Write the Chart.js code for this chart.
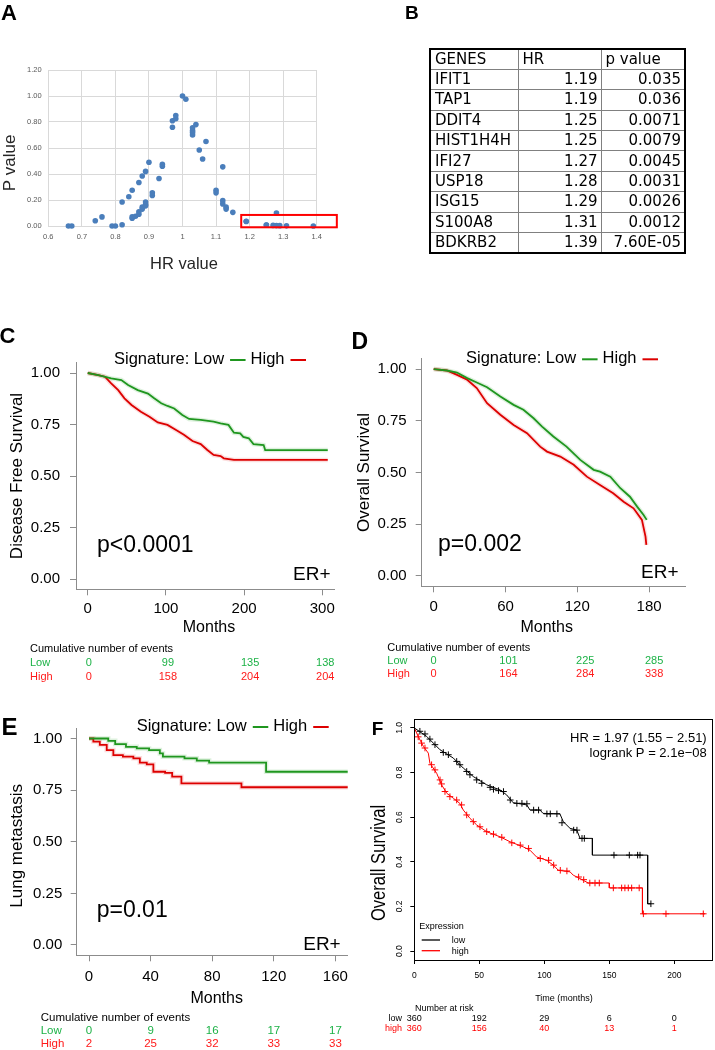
<!DOCTYPE html>
<html>
<head>
<meta charset="utf-8">
<title>Signature figure</title>
<script src="https://cdn.jsdelivr.net/npm/chart.js@4.4.1/dist/chart.umd.min.js"></script>
<style>
  body { margin: 0; background: #fff; overflow: hidden; }
  #page { position: relative; width: 715px; height: 1050px; overflow: hidden; font-family: "Liberation Sans", Arial, sans-serif; }
  #page canvas { position: absolute; left: 0; top: 0; }
  .tag { position: absolute; font-weight: bold; line-height: 1; color: #000; z-index: 2; }
  #geneTable { position: absolute; left: 429px; top: 48px; border-collapse: collapse; table-layout: fixed;
               font-family: "DejaVu Sans", Verdana, sans-serif; font-size: 15px; border: 2px solid #000; z-index: 2; }
  #geneTable tr { height: 20.4px; }
  #geneTable td { border: 1px solid #808080; padding: 0 3px 0 4px; line-height: 1; white-space: nowrap; color: #000; }
</style>
</head>
<body>
<div id="page">
  <canvas id="chartA" width="715" height="1050"></canvas>
  <canvas id="chartC" width="715" height="1050"></canvas>
  <canvas id="chartD" width="715" height="1050"></canvas>
  <canvas id="chartE" width="715" height="1050"></canvas>
  <canvas id="chartF" width="715" height="1050"></canvas>
  <table id="geneTable">
    <colgroup><col style="width:88px"><col style="width:83px"><col style="width:84px"></colgroup>
  </table>
  <div class="tag" style="left:1px;top:2px;font-size:22px">A</div>
  <div class="tag" style="left:405px;top:2.5px;font-size:19px">B</div>
  <div class="tag" style="left:-0.5px;top:324.5px;font-size:22px">C</div>
  <div class="tag" style="left:351.5px;top:330.3px;font-size:23px">D</div>
  <div class="tag" style="left:1.5px;top:715px;font-size:24px">E</div>
  <div class="tag" style="left:371.7px;top:719px;font-size:19px">F</div>
</div>
<script>
// ---------- A: HR vs p value for every candidate gene ----------
const hrValues = [0.66, 0.67, 0.74, 0.76, 0.79, 0.80, 0.82, 0.82, 0.84, 0.85, 0.85, 0.85, 0.86, 0.87, 0.87, 0.87,
  0.88, 0.88, 0.88, 0.89, 0.89, 0.89, 0.89, 0.90, 0.91, 0.91, 0.93, 0.94, 0.94, 0.97, 0.97, 0.98, 0.98, 1.00, 1.01,
  1.03, 1.03, 1.03, 1.03, 1.04, 1.05, 1.06, 1.07, 1.10, 1.10, 1.12, 1.12, 1.12, 1.13, 1.13, 1.15, 1.19, 1.19, 1.25,
  1.25, 1.27, 1.28, 1.28, 1.29, 1.31, 1.39];
const pValues = [0.00, 0.00, 0.04, 0.07, 0.00, 0.00, 0.01, 0.185, 0.225, 0.275, 0.06, 0.07, 0.075, 0.09, 0.11, 0.335,
  0.13, 0.145, 0.385, 0.155, 0.165, 0.185, 0.42, 0.49, 0.235, 0.255, 0.365, 0.46, 0.475, 0.76, 0.81, 0.825, 0.85, 1.00, 0.975,
  0.70, 0.72, 0.735, 0.755, 0.78, 0.585, 0.515, 0.65, 0.255, 0.275, 0.455, 0.17, 0.195, 0.13, 0.145, 0.105, 0.035, 0.036, 0.0071,
  0.0079, 0.0045, 0.0031, 0.10, 0.0026, 0.0012, 0.000076];
const hrTicks = [0.6, 0.7, 0.8, 0.9, 1.0, 1.1, 1.2, 1.3, 1.4];
const pTicks = [0, 0.2, 0.4, 0.6, 0.8, 1.0, 1.2];
const boxHR = [1.175, 1.46];
const boxP = [-0.01, 0.085];

// ---------- B: selected genes ----------
const geneNames = ['IFIT1', 'TAP1', 'DDIT4', 'HIST1H4H', 'IFI27', 'USP18', 'ISG15', 'S100A8', 'BDKRB2'];
const geneHR = [1.19, 1.19, 1.25, 1.25, 1.27, 1.28, 1.29, 1.31, 1.39];
const geneP = ['0.035', '0.036', '0.0071', '0.0079', '0.0045', '0.0031', '0.0026', '0.0012', '7.60E-05'];

// ---------- C: disease free survival ----------
const survTicks = [0, 0.25, 0.5, 0.75, 1];
const dfsTicks = [0, 100, 200, 300];
const dfsLowMonths = [0, 13.5, 30, 43, 51.6, 64, 77, 85, 94, 102, 110.6, 121, 129.7, 144.5, 161, 170, 180, 187, 195, 199, 206, 212, 225, 227, 307];
const dfsLowSurv = [1.0, 0.99, 0.974, 0.966, 0.942, 0.917, 0.90, 0.877, 0.853, 0.84, 0.828, 0.796, 0.777, 0.772, 0.764, 0.756, 0.748, 0.71, 0.707, 0.69, 0.683, 0.655, 0.65, 0.626, 0.626];
const dfsHighMonths = [0, 13.5, 22, 30, 39, 47, 56, 68, 79, 89.6, 102, 113, 123, 134, 144.5, 153, 161, 170, 174, 187, 307];
const dfsHighSurv = [1.0, 0.99, 0.982, 0.95, 0.917, 0.877, 0.845, 0.812, 0.788, 0.76, 0.748, 0.723, 0.70, 0.67, 0.655, 0.626, 0.602, 0.597, 0.586, 0.578, 0.578];
const dfsLowEvents = [0, 99, 135, 138];
const dfsHighEvents = [0, 158, 204, 204];

// ---------- D: overall survival ----------
const osTicks = [0, 60, 120, 180];
const osLowMonths = [0, 11, 19.5, 28, 36, 44.6, 55.7, 66.8, 75, 83.5, 90.6, 100, 111, 122.5, 133.7, 139, 147.6, 156, 164, 170, 175.4, 178];
const osLowSurv = [1.0, 0.993, 0.983, 0.956, 0.935, 0.912, 0.867, 0.827, 0.803, 0.762, 0.722, 0.674, 0.625, 0.561, 0.513, 0.504, 0.48, 0.424, 0.383, 0.335, 0.295, 0.271];
const osHighMonths = [0, 11, 19.5, 28, 36, 44.6, 55.7, 66.8, 78, 89, 94.7, 105.8, 117, 128, 139, 150, 158.7, 167, 170, 174, 177, 177.7];
const osHighSurv = [1.0, 0.993, 0.972, 0.948, 0.908, 0.835, 0.779, 0.73, 0.69, 0.625, 0.601, 0.577, 0.537, 0.48, 0.44, 0.40, 0.359, 0.327, 0.303, 0.271, 0.19, 0.15];
const osLowEvents = [0, 101, 225, 285];
const osHighEvents = [0, 164, 284, 338];

// ---------- E: lung metastasis ----------
const lungTicks = [0, 40, 80, 120, 160];
const lungLowMonths = [0, 12.5, 17, 24, 31, 39, 46, 48, 62, 70, 78, 115, 168];
const lungLowSurv = [1.0, 0.989, 0.973, 0.96, 0.952, 0.944, 0.928, 0.912, 0.904, 0.893, 0.883, 0.839, 0.839];
const lungHighMonths = [0, 2.8, 7, 11.5, 15.8, 22, 28.8, 33, 37.5, 41.8, 49.4, 54, 60, 99, 168];
const lungHighSurv = [1.0, 0.985, 0.969, 0.944, 0.92, 0.912, 0.904, 0.883, 0.875, 0.839, 0.834, 0.815, 0.783, 0.764, 0.764];
const lungLowEvents = [0, 9, 16, 17, 17];
const lungHighEvents = [2, 25, 32, 33, 33];

// ---------- F: overall survival, external cohort ----------
const fTimeTicks = [0, 50, 100, 150, 200];
const fSurvTicks = [0, 0.2, 0.4, 0.6, 0.8, 1.0];
const fLowMonths = [0, 9.5, 19.8, 30, 37.7, 45.4, 55.7, 66, 71, 76, 86.5, 89, 96.7, 99, 112, 114.6, 119.8, 125, 127.5, 137, 137, 179.5, 179.5, 182];
const fLowSurv = [1.0, 0.962, 0.902, 0.865, 0.82, 0.782, 0.745, 0.722, 0.70, 0.665, 0.655, 0.632, 0.632, 0.617, 0.615, 0.58, 0.55, 0.542, 0.505, 0.505, 0.43, 0.43, 0.212, 0.212];
const fHighMonths = [0, 3, 7, 10.8, 12, 17.2, 21, 25, 30, 35, 37.7, 42.8, 48, 55.7, 66, 73.6, 83.8, 89, 94, 101.8, 107, 110.8, 119.8, 122.3, 127.5, 133.8, 150, 150, 175.5, 175.5, 223.6];
const fHighSurv = [1.0, 0.962, 0.917, 0.887, 0.842, 0.797, 0.745, 0.707, 0.685, 0.662, 0.632, 0.595, 0.565, 0.535, 0.512, 0.49, 0.467, 0.452, 0.422, 0.407, 0.385, 0.362, 0.355, 0.34, 0.325, 0.305, 0.305, 0.283, 0.283, 0.167, 0.167];
const fLowCensorMonths = [4.3, 8.2, 12, 15.9, 22.3, 26.2, 32.6, 35.1, 40.3, 42.8, 48, 51.9, 58.3, 60.9, 64.8, 68.6, 73.8, 78.9, 82.8, 86.6, 91.8, 95.6, 102, 104.6, 109.7, 113.6, 122.6, 125.1, 129, 130.8, 153.6, 165.4, 171.8, 173.6, 182];
const fLowCensorSurv = [0.985, 0.973, 0.95, 0.925, 0.89, 0.88, 0.85, 0.835, 0.805, 0.79, 0.767, 0.752, 0.734, 0.725, 0.719, 0.715, 0.677, 0.662, 0.662, 0.66, 0.632, 0.632, 0.615, 0.615, 0.615, 0.575, 0.542, 0.542, 0.505, 0.505, 0.43, 0.43, 0.43, 0.43, 0.212];
const fHighCensorMonths = [3, 5.6, 8.2, 13.3, 15.9, 19.8, 21, 23.6, 27.4, 32.6, 36.4, 40.3, 45.4, 50.5, 55.7, 60.9, 67.3, 75, 81.5, 87.9, 96.9, 103.3, 107.2, 112.3, 117.4, 126.4, 130.3, 135, 139, 142.3, 153.1, 159.5, 162, 164.6, 167.2, 173, 176.2, 193.6, 222.3];
const fHighCensorSurv = [0.96, 0.932, 0.91, 0.835, 0.812, 0.767, 0.749, 0.715, 0.692, 0.677, 0.655, 0.61, 0.58, 0.557, 0.535, 0.524, 0.51, 0.485, 0.475, 0.46, 0.415, 0.407, 0.385, 0.362, 0.359, 0.332, 0.32, 0.305, 0.305, 0.305, 0.283, 0.283, 0.283, 0.283, 0.283, 0.283, 0.167, 0.167, 0.167];
const fLowAtRisk = [360, 192, 29, 6, 0];
const fHighAtRisk = [360, 156, 40, 13, 1];

// ---------- shared style ----------
const SANS = '"Liberation Sans", Arial, sans-serif';
const GREEN = '#1f961f';
const RED = '#dd0000';
const GREEN_TXT = '#1db247';
const RED_TXT = '#ff1a1a';
const AXIS_GREY = '#8c8c8c';

const f = (size) => size + 'px ' + SANS;
const pts = (xs, ys) => xs.map((x, i) => ({ x: x, y: ys[i] }));
const fixedTicks = (values) => (axis) => { axis.ticks = values.map(v => ({ value: v })); };

function drawTexts(ctx, items) {
  items.forEach(t => {
    ctx.save();
    ctx.font = t.font;
    ctx.fillStyle = t.color || '#000';
    ctx.textAlign = t.align || 'left';
    ctx.textBaseline = 'alphabetic';
    ctx.translate(t.x, t.y);
    if (t.rotate) ctx.rotate(t.rotate * Math.PI / 180);
    if (t.stretch) ctx.scale(t.stretch, 1);
    ctx.fillText(t.text, 0, 0);
    ctx.restore();
  });
}

function textPlugin(items) {
  return { id: 'panelText', afterDraw(chart) { drawTexts(chart.ctx, items); } };
}

function riskPlugin(r) {
  return {
    id: 'riskTable',
    afterDraw(chart) {
      const ctx = chart.ctx;
      const xs = chart.scales.x;
      drawTexts(ctx, [{ text: r.title, x: r.titleX, y: r.titleY, font: f(r.size), color: r.titleColor || '#000' }]);
      r.rows.forEach(row => {
        drawTexts(ctx, [{ text: row.label, x: r.labelX, y: row.y, font: f(r.size), color: row.color, align: r.labelAlign || 'left' }]);
        row.values.forEach((v, i) => {
          drawTexts(ctx, [{ text: String(v), x: xs.getPixelForValue(r.at[i]) + (r.shift ? r.shift[i] : 0), y: row.y,
            font: f(r.size), color: row.color, align: 'center' }]);
        });
      });
    }
  };
}

function signatureLegend(left, baseline) {
  return {
    id: 'sigLegend',
    afterDraw(chart) {
      const ctx = chart.ctx;
      ctx.save();
      ctx.font = f(16.5);
      ctx.textBaseline = 'alphabetic';
      let x = left;
      chart.data.datasets.filter(d => d.inLegend).forEach((d, i) => {
        const label = (i === 0 ? 'Signature: ' : '') + d.label;
        ctx.fillStyle = '#000';
        ctx.fillText(label, x, baseline);
        x += ctx.measureText(label).width + 6;
        ctx.strokeStyle = d.borderColor;
        ctx.lineWidth = 2;
        ctx.beginPath();
        ctx.moveTo(x, baseline - 4);
        ctx.lineTo(x + 15.5, baseline - 4);
        ctx.stroke();
        x += 15.5 + 5;
      });
      ctx.restore();
    }
  };
}

function kmChart(canvasId, s) {
  const lowPts = pts(s.lowX, s.lowY);
  const highPts = pts(s.highX, s.highY);
  const line = (label, data, color, width, legend) => ({
    label: label, data: data, borderColor: color, borderWidth: width, pointRadius: 0,
    stepped: s.stepped || false, tension: 0, fill: false, clip: false, inLegend: legend
  });
  const axisStyle = {
    grid: { drawOnChartArea: false, tickLength: 6, tickColor: AXIS_GREY, tickWidth: 1 },
    border: { color: AXIS_GREY, width: 1 }
  };
  return new Chart(document.getElementById(canvasId), {
    type: 'line',
    data: {
      datasets: [
        line('Low', lowPts, GREEN, 1.8, true),
        line('High', highPts, RED, 1.8, true),
        line('', lowPts, 'rgba(70,180,70,0.18)', 4.5, false),
        line('', highPts, 'rgba(235,70,70,0.18)', 4.5, false)
      ]
    },
    options: {
      responsive: false, animation: false, events: [],
      layout: { padding: s.padding, autoPadding: false },
      scales: {
        x: Object.assign({
          type: 'linear', bounds: 'data', min: s.xMin, max: s.xMax,
          afterBuildTicks: fixedTicks(s.xTicks),
          afterFit: (a) => { a.height = 40; },
          ticks: { padding: s.xPad, color: '#000', font: { family: SANS, size: 15 }, callback: (v) => String(v) }
        }, axisStyle),
        y: Object.assign({
          type: 'linear', bounds: 'data', min: -0.05, max: 1.05,
          afterBuildTicks: fixedTicks(survTicks),
          afterFit: (a) => { a.width = 60; },
          ticks: { padding: s.yPad, color: '#000', font: { family: SANS, size: 15 }, callback: (v) => v.toFixed(2) }
        }, axisStyle)
      },
      plugins: { legend: { display: false }, tooltip: { enabled: false } }
    },
    plugins: [textPlugin(s.texts), riskPlugin(s.risk), signatureLegend(s.legendX, s.legendY)]
  });
}

// ---------- panel A ----------
new Chart(document.getElementById('chartA'), {
  type: 'scatter',
  data: {
    datasets: [{ data: pts(hrValues, pValues), backgroundColor: '#4a7ebb', borderWidth: 0, pointRadius: 2.8, clip: false }]
  },
  options: {
    responsive: false, animation: false, events: [],
    layout: { padding: { left: 0, top: 70, right: 398.3, bottom: 794 }, autoPadding: false },
    scales: {
      x: {
        type: 'linear', bounds: 'data', min: 0.6, max: 1.4,
        afterBuildTicks: fixedTicks(hrTicks),
        afterFit: (a) => { a.height = 30; },
        grid: { color: '#d9d9d9', drawTicks: false }, border: { color: '#d9d9d9' },
        ticks: { padding: 6.5, color: '#595959', font: { family: SANS, size: 7.5 }, callback: (v) => String(Number(v.toFixed(1))) }
      },
      y: {
        type: 'linear', bounds: 'data', min: 0, max: 1.2,
        afterBuildTicks: fixedTicks(pTicks),
        afterFit: (a) => { a.width = 48.3; },
        grid: { color: '#d9d9d9', drawTicks: false }, border: { color: '#d9d9d9' },
        ticks: { padding: 6.6, color: '#595959', font: { family: SANS, size: 7.5 }, callback: (v) => v.toFixed(2) }
      }
    },
    plugins: { legend: { display: false }, tooltip: { enabled: false } }
  },
  plugins: [
    textPlugin([
      { text: 'P value', x: 14.5, y: 163, font: f(17), color: '#262626', rotate: -90, align: 'center' },
      { text: 'HR value', x: 184, y: 269.3, font: f(16.5), color: '#262626', align: 'center' }
    ]),
    {
      id: 'highlightBox',
      afterDraw(chart) {
        const { x, y } = chart.scales;
        const ctx = chart.ctx;
        const x0 = x.getPixelForValue(boxHR[0]), x1 = x.getPixelForValue(boxHR[1]);
        const y0 = y.getPixelForValue(boxP[1]), y1 = y.getPixelForValue(boxP[0]);
        ctx.save();
        ctx.strokeStyle = '#ff0000';
        ctx.lineWidth = 2;
        ctx.strokeRect(x0, y0, x1 - x0, y1 - y0);
        ctx.restore();
      }
    }
  ]
});

// ---------- panel B ----------
const table = document.getElementById('geneTable');
[['GENES', 'HR', 'p value']].concat(geneNames.map((g, i) => [g, geneHR[i].toFixed(2), geneP[i]])).forEach((row, ri) => {
  const tr = table.insertRow();
  row.forEach((cell, ci) => {
    const td = tr.insertCell();
    td.textContent = cell;
    if (ri > 0 && ci > 0) td.style.textAlign = 'right';
  });
});

// ---------- panel C ----------
kmChart('chartC', {
  lowX: dfsLowMonths, lowY: dfsLowSurv, highX: dfsHighMonths, highY: dfsHighSurv,
  xMin: -15, xMax: 315, xTicks: dfsTicks, xPad: 4.7, yPad: 10,
  padding: { left: 16, top: 362.7, right: 381, bottom: 420.7 },
  legendX: 114, legendY: 364,
  texts: [
    { text: 'Disease Free Survival', x: 22, y: 476, font: f(17), rotate: -90, align: 'center' },
    { text: 'Months', x: 209, y: 631.7, font: f(16), align: 'center' },
    { text: 'p<0.0001', x: 97, y: 552.2, font: f(23) },
    { text: 'ER+', x: 330.5, y: 579.5, font: f(19), align: 'right' }
  ],
  risk: {
    title: 'Cumulative number of events', titleX: 30, titleY: 652.2, size: 11, labelX: 30,
    at: dfsTicks, shift: [1, 2, 6, 3],
    rows: [
      { label: 'Low', color: GREEN_TXT, y: 666.2, values: dfsLowEvents },
      { label: 'High', color: RED_TXT, y: 679.6, values: dfsHighEvents }
    ]
  }
});

// ---------- panel D ----------
kmChart('chartD', {
  lowX: osLowMonths, lowY: osLowSurv, highX: osHighMonths, highY: osHighSurv,
  xMin: -10, xMax: 210, xTicks: osTicks, xPad: 6, yPad: 9,
  padding: { left: 361.7, top: 358.7, right: 30, bottom: 423.7 },
  legendX: 466, legendY: 363.3,
  texts: [
    { text: 'Overall Survival', x: 368.5, y: 472.5, font: f(17), rotate: -90, align: 'center' },
    { text: 'Months', x: 546.7, y: 631.7, font: f(16), align: 'center' },
    { text: 'p=0.002', x: 438, y: 551.2, font: f(23) },
    { text: 'ER+', x: 678.5, y: 577.5, font: f(19), align: 'right' }
  ],
  risk: {
    title: 'Cumulative number of events', titleX: 387.3, titleY: 650.6, size: 11, labelX: 387.3,
    at: osTicks, shift: [0, 3, 8, 5],
    rows: [
      { label: 'Low', color: GREEN_TXT, y: 663.9, values: osLowEvents },
      { label: 'High', color: RED_TXT, y: 677.2, values: osHighEvents }
    ]
  }
});

// ---------- panel E ----------
kmChart('chartE', {
  lowX: lungLowMonths, lowY: lungLowSurv, highX: lungHighMonths, highY: lungHighSurv, stepped: true,
  xMin: -8, xMax: 168, xTicks: lungTicks, xPad: 7, yPad: 8.4,
  padding: { left: 16.7, top: 728.2, right: 367.3, bottom: 54.7 },
  legendX: 136.7, legendY: 731,
  texts: [
    { text: 'Lung metastasis', x: 22.2, y: 845.8, font: f(17), rotate: -90, align: 'center' },
    { text: 'Months', x: 216.7, y: 1003, font: f(16), align: 'center' },
    { text: 'p=0.01', x: 96.7, y: 917.2, font: f(23) },
    { text: 'ER+', x: 340.7, y: 949.5, font: f(19), align: 'right' }
  ],
  risk: {
    title: 'Cumulative number of events', titleX: 40.7, titleY: 1020.6, size: 11.5, labelX: 40.7,
    at: lungTicks, shift: [0, 0, 0, 0, 0],
    rows: [
      { label: 'Low', color: GREEN_TXT, y: 1033.9, values: lungLowEvents },
      { label: 'High', color: RED_TXT, y: 1047.2, values: lungHighEvents }
    ]
  }
});

// ---------- panel F ----------
const censor = (xs, ys, color) => ({
  data: pts(xs, ys), showLine: false, pointStyle: 'cross', pointRadius: 3.3, pointBorderWidth: 1,
  borderColor: color, pointBorderColor: color, clip: false
});
new Chart(document.getElementById('chartF'), {
  type: 'line',
  data: {
    datasets: [
      { label: 'low', data: pts(fLowMonths, fLowSurv), borderColor: '#000', borderWidth: 1, pointRadius: 0, tension: 0, clip: false, inLegend: true },
      { label: 'high', data: pts(fHighMonths, fHighSurv), borderColor: '#ff0000', borderWidth: 1, pointRadius: 0, tension: 0, clip: false, inLegend: true },
      censor(fLowCensorMonths, fLowCensorSurv, '#000'),
      censor(fHighCensorMonths, fHighCensorSurv, '#ff0000')
    ]
  },
  options: {
    responsive: false, animation: false, events: [],
    layout: { padding: { left: 360, top: 719, right: 1.7, bottom: 60 }, autoPadding: false },
    scales: {
      x: {
        type: 'linear', bounds: 'data', min: 0, max: 230,
        afterBuildTicks: fixedTicks(fTimeTicks),
        afterFit: (a) => { a.height = 30; },
        grid: { drawOnChartArea: false, tickLength: 4, tickColor: '#000' }, border: { display: false },
        ticks: { padding: 6.9, color: '#000', font: { family: SANS, size: 8.5 }, callback: (v) => String(v) }
      },
      y: {
        type: 'linear', bounds: 'data', min: -0.04, max: 1.04,
        afterBuildTicks: fixedTicks(fSurvTicks),
        afterFit: (a) => { a.width = 54.3; },
        grid: { drawOnChartArea: false, tickLength: 4, tickColor: '#000' }, border: { display: false },
        ticks: { padding: 4.4, minRotation: 90, maxRotation: 90, crossAlign: 'center', color: '#000',
                 font: { family: SANS, size: 8.5 }, callback: (v) => v.toFixed(1) }
      }
    },
    plugins: { legend: { display: false }, tooltip: { enabled: false } }
  },
  plugins: [
    {
      id: 'frame',
      afterDraw(chart) {
        const a = chart.chartArea, ctx = chart.ctx;
        ctx.save();
        ctx.strokeStyle = '#000';
        ctx.lineWidth = 1;
        ctx.strokeRect(Math.round(a.left) + 0.5, Math.round(a.top) + 0.5, Math.round(a.right - a.left) - 1, Math.round(a.bottom - a.top));
        ctx.restore();
      }
    },
    {
      id: 'exprLegend',
      afterDraw(chart) {
        const ctx = chart.ctx;
        const rowY = [940, 950.7];
        drawTexts(ctx, [{ text: 'Expression', x: 419.3, y: 929.2, font: f(9) }]);
        chart.data.datasets.filter(d => d.inLegend).forEach((d, i) => {
          ctx.save();
          ctx.strokeStyle = d.borderColor;
          ctx.lineWidth = 1.3;
          ctx.beginPath();
          ctx.moveTo(421.7, rowY[i]);
          ctx.lineTo(440, rowY[i]);
          ctx.stroke();
          ctx.restore();
          drawTexts(ctx, [{ text: d.label, x: 451.7, y: rowY[i] + 3.2, font: f(9) }]);
        });
      }
    },
    textPlugin([
      { text: 'HR = 1.97 (1.55 \u2212 2.51)', x: 706.7, y: 742, font: f(13), align: 'right' },
      { text: 'logrank P = 2.1e\u221208', x: 706.7, y: 757.4, font: f(13), align: 'right' },
      { text: 'Overall Survival', x: 385, y: 863, font: f(20), rotate: -90, align: 'center', stretch: 0.83 },
      { text: 'Time (months)', x: 564, y: 1000.5, font: f(9), align: 'center' }
    ]),
    riskPlugin({
      title: 'Number at risk', titleX: 415, titleY: 1010.5, size: 9, labelX: 402, labelAlign: 'right',
      at: fTimeTicks, shift: [0, 0, 0, 0, 0],
      rows: [
        { label: 'low', color: '#000', y: 1020.5, values: fLowAtRisk },
        { label: 'high', color: '#ff0000', y: 1030.9, values: fHighAtRisk }
      ]
    })
  ]
});
</script>
</body>
</html>
